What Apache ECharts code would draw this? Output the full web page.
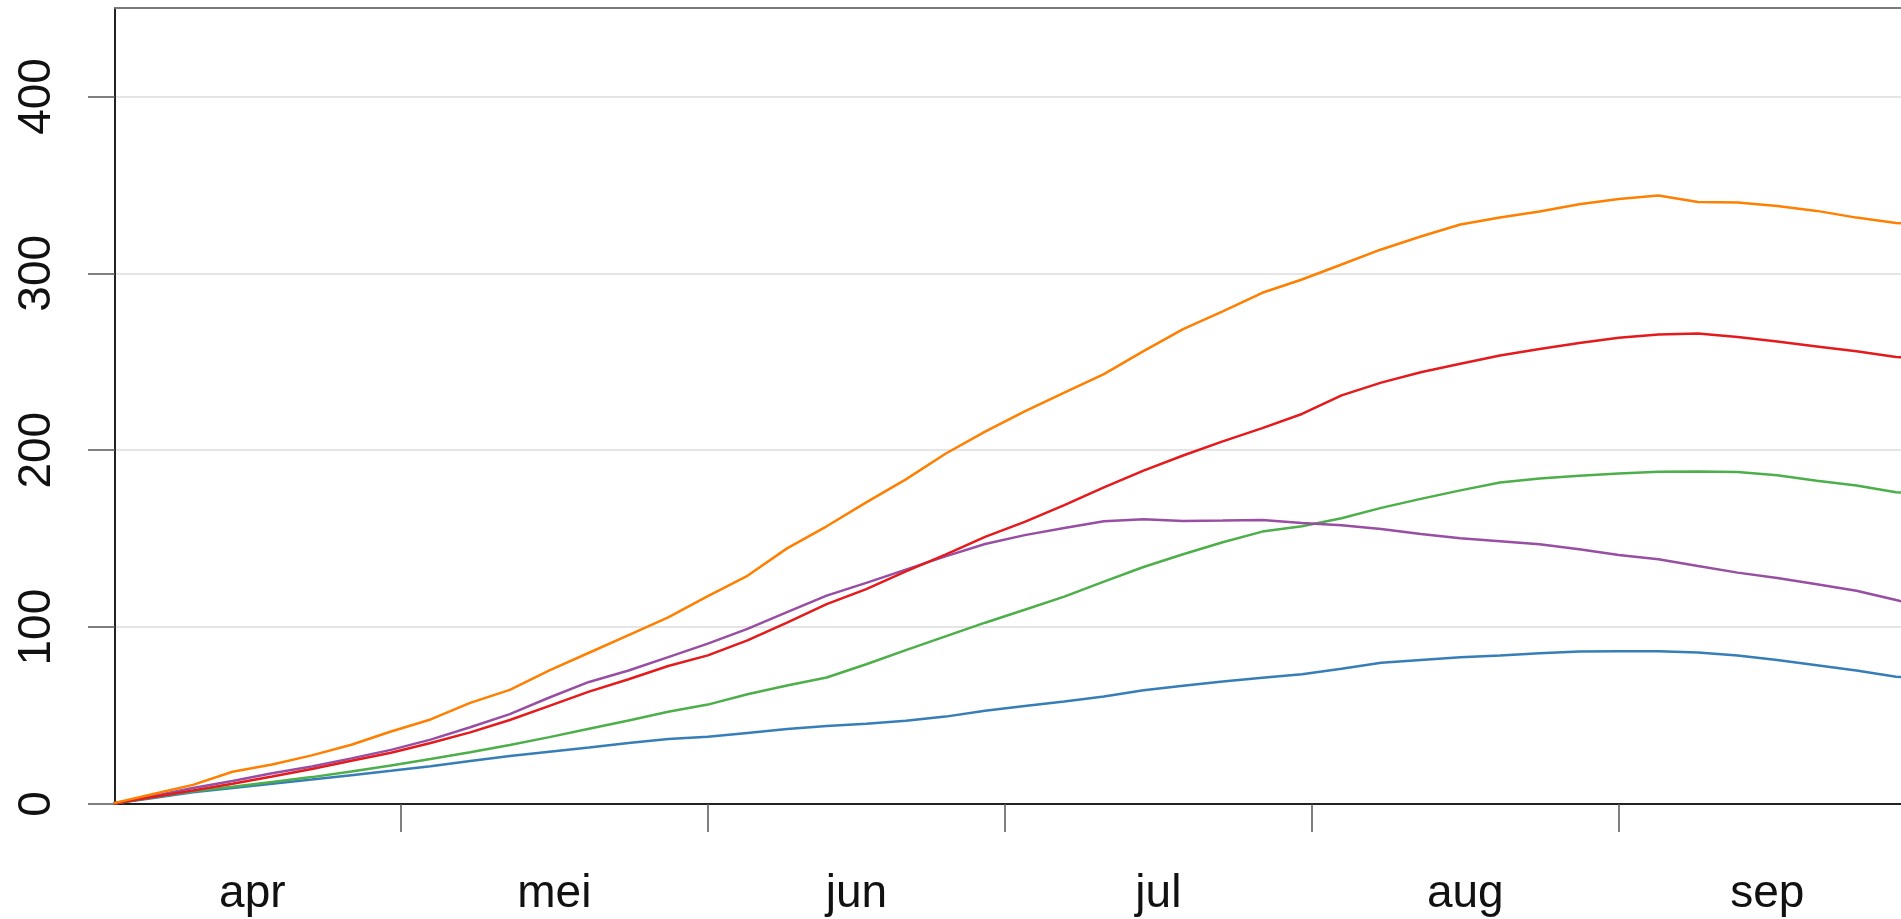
<!DOCTYPE html>
<html>
<head>
<meta charset="utf-8">
<title>Cumulatief verloop apr–sep</title>
<script src="https://cdn.jsdelivr.net/npm/echarts@6/dist/echarts.min.js"></script>
<style>
  html, body { margin: 0; padding: 0; background: #ffffff; }
  #chart { width: 1901px; height: 919px; }
</style>
</head>
<body>
<div id="chart"></div>
<script>
// Dagnummer t.o.v. 1 april (1 april = 0)
const dagen = [1, 5, 9, 13, 17, 21, 25, 29, 33, 37, 41, 45, 49, 53, 57, 61, 65, 69, 73, 77,
  81, 85, 89, 93, 97, 101, 105, 109, 113, 117, 121, 125, 129, 133, 137, 141, 145, 149, 153, 157,
  161, 165, 169, 173, 177, 181, 182];

const blauw = [0.3, 3.4, 6.7, 9.0, 11.5, 13.8, 16.3, 18.8, 21.4, 24.3, 27.2, 29.6, 32.0, 34.5, 36.7, 38.0, 40.2, 42.4, 44.1, 45.3,
  47.0, 49.4, 52.7, 55.4, 58.0, 60.8, 64.3, 66.9, 69.2, 71.4, 73.3, 76.5, 79.8, 81.4, 82.9, 84.0, 85.2, 86.2, 86.4, 86.4,
  85.6, 84.0, 81.4, 78.5, 75.5, 72.0, 71.5];

const groen = [0.3, 3.8, 7.2, 9.8, 12.5, 15.2, 18.4, 21.8, 25.5, 29.3, 33.3, 37.8, 42.5, 47.2, 52.2, 56.2, 62.0, 67.0, 71.5, 79.0,
  87.0, 94.8, 102.5, 109.8, 117.2, 125.7, 134.0, 141.2, 148.0, 154.0, 157.0, 161.5, 167.4, 172.5, 177.3, 181.8, 184.0, 185.5, 186.8, 187.8,
  188.0, 187.7, 185.8, 182.8, 180.0, 176.3, 175.8];

const paars = [0.3, 4.5, 9.1, 13.0, 17.4, 21.2, 25.8, 30.6, 36.4, 43.4, 50.8, 60.2, 69.0, 75.5, 83.0, 90.7, 99.0, 108.5, 117.8, 125.0,
  132.5, 140.0, 147.0, 152.0, 156.0, 159.8, 161.0, 160.0, 160.2, 160.5, 158.8, 157.6, 155.5, 152.6, 150.3, 148.6, 146.8, 144.0, 140.8, 138.4,
  134.5, 130.8, 127.8, 124.2, 120.6, 115.3, 114.0];

const rood = [0.3, 4.0, 7.6, 11.4, 15.5, 19.8, 24.4, 29.0, 34.5, 40.5, 47.5, 55.5, 63.5, 70.5, 78.0, 84.0, 92.5, 102.5, 113.0, 121.5,
  131.5, 141.0, 151.0, 159.5, 169.0, 179.0, 188.5, 197.0, 205.0, 212.5, 220.5, 231.0, 238.2, 244.1, 248.9, 253.6, 257.2, 260.6, 263.6, 265.4,
  266.0, 264.0, 261.4, 258.7, 256.0, 252.7, 252.3];

const oranje = [0.5, 5.7, 10.8, 18.2, 22.3, 27.5, 33.5, 41.0, 47.8, 57.2, 64.5, 75.5, 85.5, 95.5, 105.5, 117.5, 129.0, 144.5, 157.0, 170.5,
  183.5, 198.0, 210.5, 222.0, 232.5, 243.0, 256.0, 268.5, 278.5, 289.0, 296.5, 305.0, 313.5, 320.8, 327.6, 331.6, 335.0, 339.0, 342.0, 344.0,
  340.3, 340.0, 338.0, 335.3, 331.5, 328.5, 328.0];

// Maandgrenzen (ticks) en maandmiddens (labels)
const maandGrenzen = [30, 61, 91, 122, 153];
const maandMidden = [15, 45.5, 76, 106.5, 137.5, 168];
const maandNamen = ['apr', 'mei', 'jun', 'jul', 'aug', 'sep'];

const yTicks = [0, 100, 200, 300, 400];

const reeksen = [
  { naam: 'blauw', waarden: blauw, kleur: '#377EB8' },
  { naam: 'groen', waarden: groen, kleur: '#4DAF4A' },
  { naam: 'paars', waarden: paars, kleur: '#984EA3' },
  { naam: 'rood', waarden: rood, kleur: '#E41A1C' },
  { naam: 'oranje', waarden: oranje, kleur: '#FF7F00' }
];

const font = '"Liberation Sans", Arial, Helvetica, sans-serif';

const chart = echarts.init(document.getElementById('chart'), null, { renderer: 'canvas' });

chart.setOption({
  animation: false,
  backgroundColor: '#ffffff',
  grid: { left: 115, right: 0, top: 8, bottom: 115, containLabel: false },
  xAxis: [
    {
      type: 'value',
      min: 1.13,
      max: 181.5,
      position: 'bottom',
      axisLine: { show: true, onZero: false, lineStyle: { color: '#222222', width: 2 } },
      axisTick: {
        show: true,
        customValues: maandGrenzen,
        length: 28,
        lineStyle: { color: '#555555', width: 1.5 }
      },
      axisLabel: {
        show: true,
        customValues: maandMidden,
        margin: 67,
        fontSize: 46,
        fontFamily: font,
        color: '#111111',
        formatter: function (v) {
          const i = maandMidden.indexOf(v);
          return i >= 0 ? maandNamen[i] : '';
        }
      },
      splitLine: { show: false }
    },
    {
      type: 'value',
      min: 1.13,
      max: 181.5,
      position: 'top',
      axisLine: { show: true, onZero: false, lineStyle: { color: '#7a7a7a', width: 2 } },
      axisTick: { show: false },
      axisLabel: { show: false },
      splitLine: { show: false }
    }
  ],
  yAxis: {
    type: 'value',
    min: 0,
    max: 450,
    axisLine: { show: true, onZero: false, lineStyle: { color: '#222222', width: 2 } },
    axisTick: {
      show: true,
      customValues: yTicks,
      length: 27,
      lineStyle: { color: '#555555', width: 1.5 }
    },
    axisLabel: {
      show: true,
      customValues: yTicks,
      rotate: 90,
      margin: 55,
      fontSize: 46,
      fontFamily: font,
      color: '#111111'
    },
    splitLine: { show: true, lineStyle: { color: '#dddddd', width: 1.5 } }
  },
  series: reeksen.map(function (r) {
    return {
      name: r.naam,
      type: 'line',
      xAxisIndex: 0,
      data: dagen.map(function (d, i) { return [d, r.waarden[i]]; }),
      showSymbol: false,
      symbol: 'none',
      smooth: false,
      clip: true,
      lineStyle: { color: r.kleur, width: 2.5 },
      itemStyle: { color: r.kleur },
      z: 3
    };
  })
});
</script>
</body>
</html>
